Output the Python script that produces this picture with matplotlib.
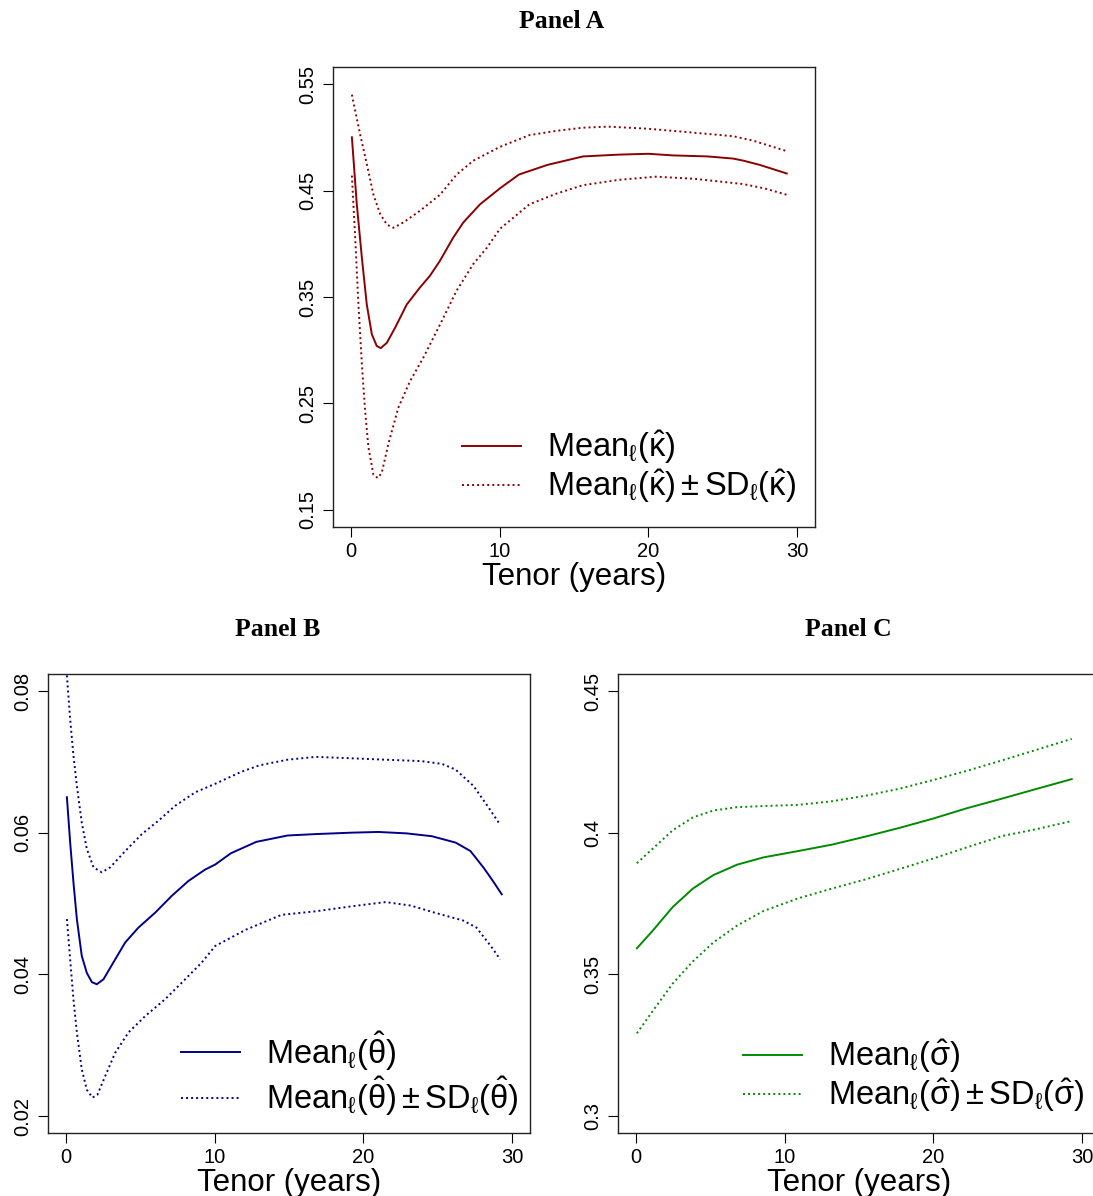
import matplotlib
matplotlib.use("Agg")
import matplotlib.pyplot as plt

plt.rcParams['font.family'] = ['Liberation Sans', 'DejaVu Sans']
plt.rcParams['mathtext.fontset'] = 'custom'
plt.rcParams['mathtext.rm'] = 'Liberation Sans'
plt.rcParams['mathtext.it'] = 'Liberation Sans'
plt.rcParams['mathtext.bf'] = 'Liberation Sans:bold'
plt.rcParams['mathtext.fallback'] = 'stixsans'

# ---- Panel A: kappa ----
ka_t = [0.07, 0.40, 0.74, 1.07, 1.41, 1.74, 2.01, 2.42, 2.97, 3.76, 4.65, 5.32,
        5.99, 6.89, 7.56, 8.68, 10.02, 11.3, 13.2, 15.6, 18.0, 20.0, 21.6, 24.0,
        25.7, 26.4, 27.5, 29.3]
ka_mean = [0.500, 0.437, 0.387, 0.343, 0.315, 0.304, 0.302, 0.307, 0.321, 0.343,
           0.359, 0.370, 0.384, 0.406, 0.420, 0.437, 0.452, 0.465, 0.474, 0.482,
           0.4837, 0.4845, 0.483, 0.482, 0.480, 0.478, 0.474, 0.466]
ka_up_t = [0.07, 0.62, 1.07, 1.52, 1.97, 2.42, 2.86, 3.53, 4.65, 5.99, 7.11, 8.23,
           10.02, 12.0, 13.8, 15.6, 17.3, 20.0, 22.5, 25.7, 27.0, 29.3]
ka_up = [0.540, 0.503, 0.475, 0.446, 0.428, 0.418, 0.415, 0.420, 0.431, 0.446,
         0.465, 0.478, 0.491, 0.502, 0.506, 0.509, 0.510, 0.508, 0.505, 0.501,
         0.497, 0.487]
ka_lo_t = [0.07, 0.29, 0.51, 0.74, 0.96, 1.18, 1.52, 1.81, 2.08, 2.52, 3.19, 3.98,
           4.87, 5.99, 7.11, 8.23, 9.13, 10.02, 12.0, 13.8, 15.6, 18.0, 20.5, 23.1,
           26.4, 27.8, 29.3]
ka_lo = [0.464, 0.406, 0.343, 0.287, 0.243, 0.209, 0.183, 0.180, 0.185, 0.212,
         0.246, 0.271, 0.293, 0.324, 0.356, 0.381, 0.396, 0.414, 0.437, 0.447,
         0.455, 0.460, 0.463, 0.461, 0.456, 0.452, 0.446]

# ---- Panel B: theta ----
th_t = [0.07, 0.29, 0.51, 0.74, 1.07, 1.41, 1.75, 2.08, 2.53, 3.2, 3.99, 4.88,
        6.0, 7.13, 8.25, 9.37, 10.04, 11.1, 12.8, 14.9, 16.8, 19.2, 21.0, 22.9,
        24.6, 26.2, 27.2, 28.1, 28.7, 29.3]
th_mean = [0.0650, 0.0586, 0.0530, 0.0478, 0.0426, 0.0402, 0.0389, 0.0386, 0.0393,
           0.0417, 0.0445, 0.0466, 0.0487, 0.0511, 0.0532, 0.0548, 0.0555, 0.0571,
           0.0587, 0.0596, 0.0598, 0.0600, 0.0601, 0.0599, 0.0595, 0.0586, 0.0574,
           0.0550, 0.0532, 0.0513]
th_up_t = [0.07, 0.29, 0.51, 0.74, 1.07, 1.41, 1.86, 2.42, 2.98, 3.99, 5.11, 6.23,
           7.35, 8.7, 10.04, 11.8, 13.0, 14.9, 16.8, 19.2, 21.5, 23.9, 25.3, 26.2,
           27.4, 28.3, 29.2]
th_up = [0.0822, 0.0760, 0.0709, 0.0666, 0.0614, 0.0577, 0.0551, 0.0544, 0.0551,
         0.0574, 0.0598, 0.0617, 0.0638, 0.0657, 0.0669, 0.0686, 0.0695, 0.0703,
         0.0707, 0.0705, 0.0703, 0.0701, 0.0697, 0.0689, 0.0666, 0.0639, 0.0611]
th_lo_t = [0.07, 0.29, 0.51, 0.74, 1.07, 1.41, 1.79, 2.12, 2.64, 3.31, 4.21, 5.33,
           6.68, 8.02, 9.15, 10.04, 12.1, 14.5, 16.8, 19.2, 21.5, 23.2, 24.8, 26.7,
           27.6, 28.6, 29.2]
th_lo = [0.0478, 0.0421, 0.0365, 0.0318, 0.0266, 0.0237, 0.0226, 0.0230, 0.0256,
         0.0289, 0.0318, 0.0341, 0.0365, 0.0393, 0.0417, 0.0440, 0.0463, 0.0484,
         0.0489, 0.0496, 0.0502, 0.0497, 0.0487, 0.0476, 0.0466, 0.0439, 0.0421]

# ---- Panel C: sigma ----
sg_t = [0.07, 1.1, 2.47, 3.84, 5.2, 6.8, 8.6, 10.9, 13.2, 15.5, 17.8, 20.0,
        22.3, 24.6, 26.9, 29.3]
sg_mean = [0.3592, 0.3652, 0.3737, 0.3803, 0.3850, 0.3887, 0.3913, 0.3935, 0.3958,
           0.3987, 0.4018, 0.4050, 0.4087, 0.4120, 0.4154, 0.4189]
sg_up = [0.3892, 0.3942, 0.4008, 0.4054, 0.4078, 0.4090, 0.4094, 0.4098, 0.4111,
         0.4131, 0.4156, 0.4186, 0.4219, 0.4255, 0.4292, 0.4331]
sg_lo = [0.3292, 0.3368, 0.3467, 0.3546, 0.3612, 0.3672, 0.3724, 0.3768, 0.3803,
         0.3836, 0.3873, 0.3909, 0.3949, 0.3988, 0.4012, 0.4041]

x_ticks = [0, 10, 20, 30]

W, H = 1093, 1196
fig = plt.figure(figsize=(W / 100, H / 100), dpi=100)


def px_axes(left, top, right, bottom):
    return fig.add_axes([left / W, (H - bottom) / H, (right - left) / W, (bottom - top) / H])


def panel(ax, color, sym, mt, mv, ut, uv, lt, lv, yticks, ylabels, ylim, leg_xy):
    dot = (0, (1.0, 1.6))
    ax.plot(mt, mv, color=color, lw=1.4, label=r'$\mathrm{Mean}_{\ell}(\hat{%s})$' % sym)
    ax.plot(ut, uv, color=color, lw=1.4, ls=dot,
            label=r'$\mathrm{Mean}_{\ell}(\hat{%s}) \pm \mathrm{SD}_{\ell}(\hat{%s})$' % (sym, sym))
    ax.plot(lt, lv, color=color, lw=1.4, ls=dot)
    ax.set_xlim(-1.2, 31.2)
    pad = (ylim[1] - ylim[0]) * 0.04
    ax.set_ylim(ylim[0] - pad, ylim[1] + pad)
    ax.set_xticks(x_ticks)
    ax.set_xticklabels([str(v) for v in x_ticks])
    ax.set_yticks(yticks)
    ax.set_yticklabels(ylabels, rotation=90, va='center')
    ax.tick_params(direction='out', length=7, width=0.8, labelsize=14.5, pad=4)
    for s in ax.spines.values():
        s.set_linewidth(1.0)
        s.set_color('#222222')
    ax.set_xlabel('Tenor (years)', fontsize=22.5, labelpad=0.5)
    ax.legend(loc='upper left', bbox_to_anchor=leg_xy, frameon=False, fontsize=23.5,
              handlelength=1.81, handletextpad=0.8, borderpad=0, borderaxespad=0,
              labelspacing=0.05)


axA = px_axes(333, 67, 815, 527)
panel(axA, '#8B0000', r'\kappa', ka_t, ka_mean, ka_up_t, ka_up, ka_lo_t, ka_lo,
      [0.15, 0.25, 0.35, 0.45, 0.55], ['0.15', '0.25', '0.35', '0.45', '0.55'],
      (0.15, 0.55), (0.268, 0.214))

axB = px_axes(48, 674, 530, 1133)
panel(axB, '#00008B', r'\theta', th_t, th_mean, th_up_t, th_up, th_lo_t, th_lo,
      [0.02, 0.04, 0.06, 0.08], ['0.02', '0.04', '0.06', '0.08'],
      (0.02, 0.08), (0.276, 0.226))

axC = px_axes(618, 674, 1100, 1133)
panel(axC, '#008B00', r'\sigma', sg_t, sg_mean, sg_t, sg_up, sg_t, sg_lo,
      [0.30, 0.35, 0.40, 0.45], ['0.3', '0.35', '0.4', '0.45'],
      (0.30, 0.45), (0.259, 0.208))

title_kw = dict(family=['Liberation Serif', 'DejaVu Serif'], weight='bold',
                fontsize=18.5, ha='center', va='center')
fig.text(562 / W, 1 - 22 / H, 'Panel A', **title_kw)
fig.text(278 / W, 1 - 630 / H, 'Panel B', **title_kw)
fig.text(848 / W, 1 - 630 / H, 'Panel C', **title_kw)

fig.savefig('out.png', dpi=100)
